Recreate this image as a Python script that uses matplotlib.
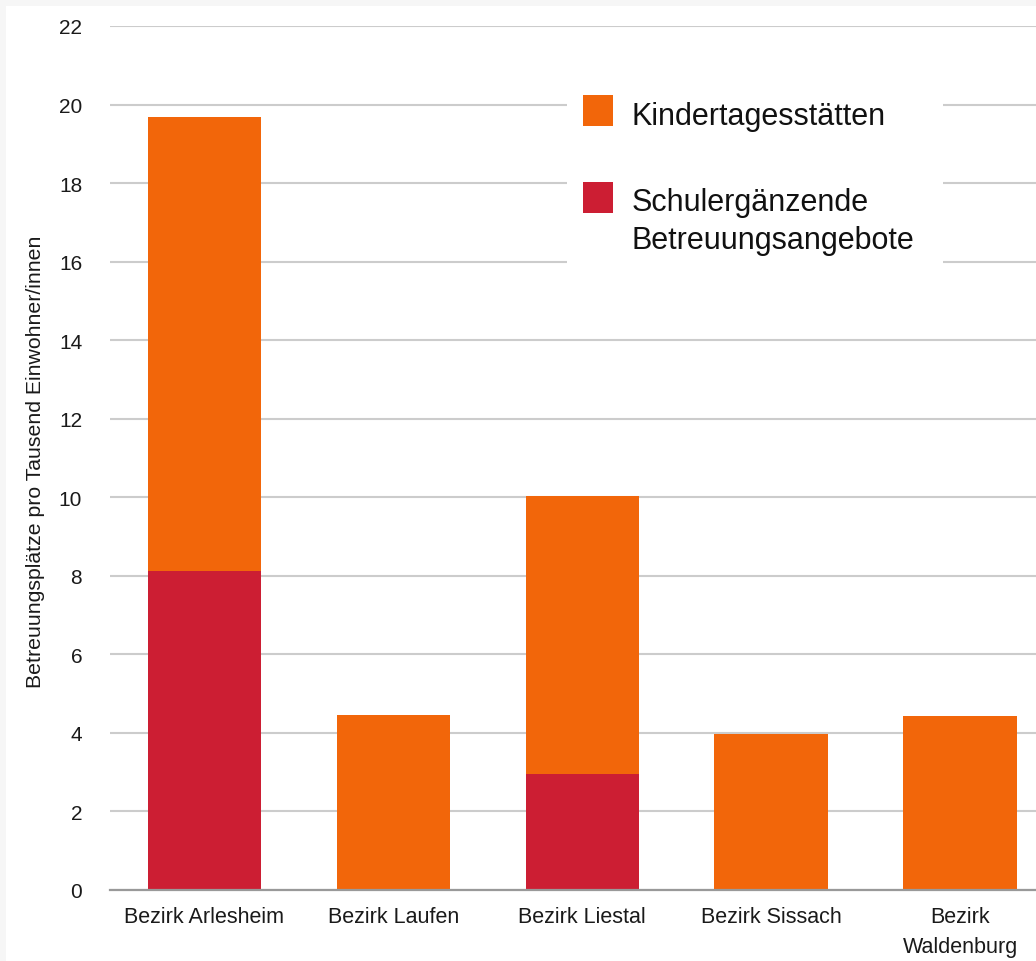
import matplotlib
matplotlib.use("Agg")
import matplotlib.pyplot as plt
from matplotlib.patches import Rectangle

# Daten (Betreuungsplätze pro Tausend Einwohner/innen)
bezirke = ["Bezirk Arlesheim", "Bezirk Laufen", "Bezirk Liestal", "Bezirk Sissach", "Bezirk\nWaldenburg"]
schulergaenzend = [8.12, 0.0, 2.95, 0.0, 0.0]
kitas = [11.56, 4.46, 7.07, 3.97, 4.43]
y_ticks = [0, 2, 4, 6, 8, 10, 12, 14, 16, 18, 20, 22]

ORANGE = "#f2660a"
ROT = "#cc1e33"

plt.rcParams['font.family'] = ['Liberation Sans', 'DejaVu Sans']

W, H = 1036, 962
fig = plt.figure(figsize=(W / 100, H / 100), dpi=100)
fig.patch.set_facecolor("#f6f6f6")
# weisses Panel, grauer Rand oben und links
fig.add_artist(Rectangle((6 / W, 0), 1, 1 - 7 / H, transform=fig.transFigure,
                         facecolor="white", edgecolor="none", zorder=-5))

ax = fig.add_axes([110 / W, 71 / H, 944.5 / W, 864 / H])
ax.set_facecolor("white")

x = list(range(len(bezirke)))
ax.bar(x, schulergaenzend, width=0.6, color=ROT, edgecolor="none", zorder=2)
ax.bar(x, kitas, width=0.6, bottom=schulergaenzend, color=ORANGE, edgecolor="none", zorder=2)

ax.set_xlim(-0.5, 4.5)
ax.set_ylim(0, 22)
ax.set_yticks(y_ticks)
ax.set_xticks(x)
ax.set_xticklabels(bezirke, linespacing=1.55)
ax.yaxis.grid(True, color="#cccccc", linewidth=1.5)
ax.set_axisbelow(True)

for s in ["top", "right", "left"]:
    ax.spines[s].set_visible(False)
ax.spines["bottom"].set_color("#999999")
ax.spines["bottom"].set_linewidth(1.6)
ax.spines["bottom"].set_zorder(3)

ax.tick_params(axis="y", length=0, pad=20, labelsize=15, labelcolor="#1a1a1a")
ax.tick_params(axis="x", length=0, pad=11.5, labelsize=15.5, labelcolor="#1a1a1a")

ax.set_ylabel("Betreuungsplätze pro Tausend Einwohner/innen", fontsize=15.3, color="#1a1a1a")
ax.yaxis.set_label_coords(-0.069, 0.497)

# Legende von Hand, weisser Kasten ueber den Gitterlinien
def fx(px):
    return px / W

def fy(py):
    return 1 - py / H

fig.add_artist(Rectangle((fx(567), fy(272)), fx(943) - fx(567), fy(85) - fy(272),
                         transform=fig.transFigure, facecolor="white", edgecolor="none", zorder=5))
fig.add_artist(Rectangle((fx(583), fy(127)), 30 / W, 31 / H, transform=fig.transFigure,
                         facecolor=ORANGE, edgecolor="none", zorder=6))
fig.add_artist(Rectangle((fx(583), fy(214)), 30 / W, 31 / H, transform=fig.transFigure,
                         facecolor=ROT, edgecolor="none", zorder=6))
fig.text(fx(632), fy(125), "Kindertagesstätten", fontsize=22, color="#111111", va="baseline", zorder=7)
fig.text(fx(632), fy(211), "Schulergänzende", fontsize=22, color="#111111", va="baseline", zorder=7)
fig.text(fx(632), fy(249), "Betreuungsangebote", fontsize=22, color="#111111", va="baseline", zorder=7)

fig.savefig("out.png", dpi=100)
